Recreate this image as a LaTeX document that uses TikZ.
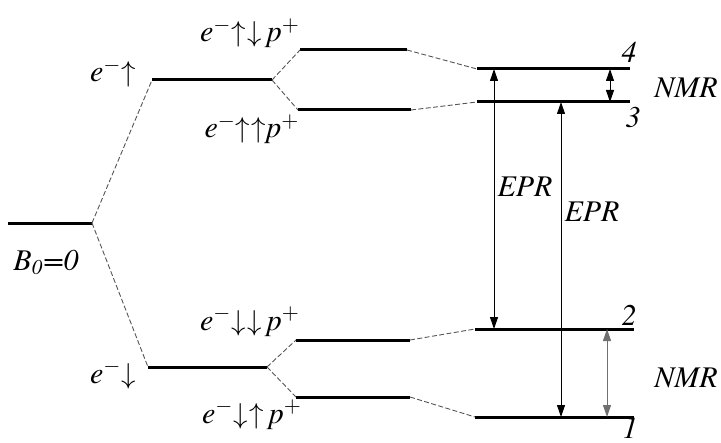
\documentclass[tikz,border=0pt]{standalone}
\usepackage{fontspec}
\setmainfont{texgyretermes}[Extension=.otf,UprightFont=*-regular,ItalicFont=*-italic,BoldFont=*-bold,BoldItalicFont=*-bolditalic]
\usetikzlibrary{arrows.meta}
\definecolor{zeLinkGray}{HTML}{555555}
\definecolor{zeNmrGray}{HTML}{707070}
\tikzset{
    zeLevel/.style={line width=1.5pt,draw=black},
    zeLink/.style={line width=0.45pt,draw=zeLinkGray,dash pattern=on 2.5pt off 1.2pt},
    zeArrow/.style={{Triangle[length=6pt,width=4pt]}-{Triangle[length=6pt,width=4pt]},line width=0.5pt,draw=black},
    zeLabel/.style={anchor=base,inner sep=0pt}
}
\newcommand{\zeUp}{$\uparrow$}
\newcommand{\zeDn}{$\downarrow$}

\begin{document}
\begin{tikzpicture}[x=0.5pt,y=-0.5pt,font=\fontsize{15}{18}\selectfont\itshape]
        \useasboundingbox (0,0) rectangle (721,443);

        % level end points
        \coordinate (b0L) at (8,223);   \coordinate (b0R) at (92,223);
        \coordinate (upL) at (152,80);  \coordinate (upR) at (272,80);
        \coordinate (dnL) at (148,367); \coordinate (dnR) at (267,367);
        \coordinate (udL) at (300,50);  \coordinate (udR) at (407,50);
        \coordinate (uuL) at (298,110); \coordinate (uuR) at (411,110);
        \coordinate (ddL) at (296,340); \coordinate (ddR) at (410,340);
        \coordinate (duL) at (296,397); \coordinate (duR) at (410,397);
        \coordinate (l4L) at (477,69);  \coordinate (l4R) at (630,69);
        \coordinate (l3L) at (477,102); \coordinate (l3R) at (630,102);
        \coordinate (l2L) at (475,329); \coordinate (l2R) at (634,329);
        \coordinate (l1L) at (475,417); \coordinate (l1R) at (634,417);

        % transition end points
        \coordinate (eprA4) at (494,69);  \coordinate (eprA2) at (494,329);
        \coordinate (eprB3) at (561,102); \coordinate (eprB1) at (561,417);
        \coordinate (nmrA4) at (610,69);  \coordinate (nmrA3) at (610,102);
        \coordinate (nmrB2) at (607,329); \coordinate (nmrB1) at (607,417);

        % levels
        \draw[zeLevel] (b0L) -- (b0R);
        \draw[zeLevel] (upL) -- (upR);
        \draw[zeLevel] (dnL) -- (dnR);
        \draw[zeLevel] (udL) -- (udR);
        \draw[zeLevel] (uuL) -- (uuR);
        \draw[zeLevel] (ddL) -- (ddR);
        \draw[zeLevel] (duL) -- (duR);
        \draw[zeLevel] (l4L) -- (l4R);
        \draw[zeLevel] (l3L) -- (l3R);
        \draw[zeLevel] (l2L) -- (l2R);
        \draw[zeLevel] (l1L) -- (l1R);

        % correlation lines
        \draw[zeLink] (b0R) -- (upL);
        \draw[zeLink] (b0R) -- (dnL);
        \draw[zeLink] (upR) -- (udL);
        \draw[zeLink] (upR) -- (uuL);
        \draw[zeLink] (dnR) -- (ddL);
        \draw[zeLink] (dnR) -- (duL);
        \draw[zeLink] (udR) -- (l4L);
        \draw[zeLink] (uuR) -- (l3L);
        \draw[zeLink] (ddR) -- (l2L);
        \draw[zeLink] (duR) -- (l1L);

        % transitions
        \draw[zeArrow] (eprA4) -- (eprA2);
        \draw[zeArrow] (eprB3) -- (eprB1);
        \draw[zeArrow] (nmrA4) -- (nmrA3);
        \draw[zeArrow,draw=zeNmrGray] (nmrB2) -- (nmrB1);

        % labels
        \node[zeLabel] (lblB0) at (46,270) {B\textsubscript{0}=0};
        \node[zeLabel] (lblUp) at (113,82) {e$^{-}$\zeUp};
        \node[zeLabel] (lblDn) at (113,383) {e$^{-}$\zeDn};
        \node[zeLabel] (lblUd) at (250,42) {e$^{-}$\zeUp\kern0.8pt\zeDn\,p$^{+}$};
        \node[zeLabel] (lblUu) at (252,138) {e$^{-}$\zeUp\kern0.8pt\zeUp p$^{+}$};
        \node[zeLabel] (lblDd) at (250,330) {e$^{-}$\zeDn\kern0.8pt\zeDn\,p$^{+}$};
        \node[zeLabel] (lblDu) at (252,423) {e$^{-}$\zeDn\kern0.8pt\zeUp\,p$^{+}$};
        \node[zeLabel] (lbl4) at (629,63) {4};
        \node[zeLabel] (lbl3) at (633,128) {3};
        \node[zeLabel] (lbl2) at (629,325) {2};
        \node[zeLabel] (lbl1) at (630,438) {1};
        \node[zeLabel] (lblNmrA) at (686,98) {NMR};
        \node[zeLabel] (lblNmrB) at (686,387) {NMR};
        \node[zeLabel] (lblEprA) at (525,197) {EPR};
        \node[zeLabel] (lblEprB) at (592,221) {EPR};
    \end{tikzpicture}
\end{document}
